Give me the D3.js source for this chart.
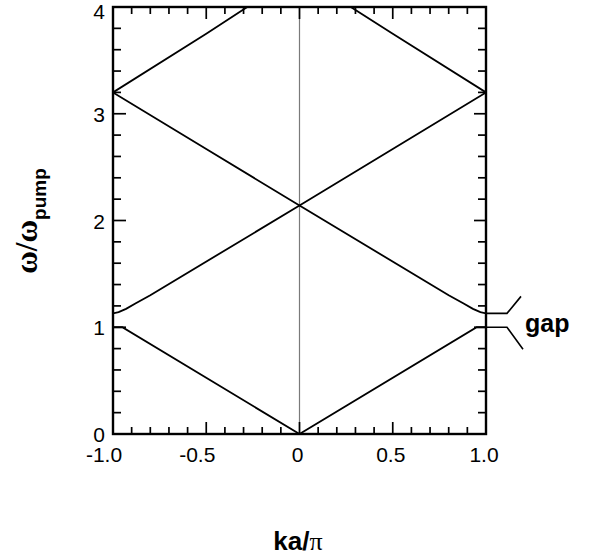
<!DOCTYPE html>
<html>
<head>
<meta charset="utf-8">
<script src="https://cdn.jsdelivr.net/npm/d3@7"></script>
<style>
  html, body { margin: 0; padding: 0; background: #fff; }
  svg { display: block; font-family: "Liberation Sans", Arial, Helvetica, sans-serif; }
</style>
</head>
<body>
<div id="chart"></div>
<script>
// Dispersion bands ω/ω_pump against ka/π
const band1K = [-1.0, -0.95, 0.0, 0.95, 1.0];
const band1W = [1.0, 1.0, 0.0, 1.0, 1.0];

const band2UpK = [-1.0, -0.97, -0.93, -0.88, -0.8, 0.0, 0.5, 1.0];
const band2UpW = [1.13, 1.142, 1.172, 1.222, 1.30, 2.14, 2.67, 3.2];

const band2DownK = [-1.0, -0.5, 0.0, 0.8, 0.88, 0.93, 0.97, 1.0];
const band2DownW = [3.2, 2.67, 2.14, 1.30, 1.222, 1.172, 1.142, 1.13];

const band3LeftK = [-1.0, -0.5, -0.28];
const band3LeftW = [3.2, 3.75, 4.0];

const band3RightK = [1.0, 0.5, 0.275];
const band3RightW = [3.2, 3.75, 4.0];

const gapEdges = [1.0, 1.13];

const xTickLabels = ["-1.0", "-0.5", "0", "0.5", "1.0"];
const xTickValues = [-1.0, -0.5, 0, 0.5, 1.0];
const yTickLabels = ["0", "1", "2", "3", "4"];
const yTickValues = [0, 1, 2, 3, 4];

const W = 590, H = 559;
const plot = { left: 113, right: 486, top: 7, bottom: 434 };

const svg = d3.select("#chart").append("svg")
  .attr("width", W).attr("height", H);

const x = d3.scaleLinear().domain([-1, 1]).range([plot.left, plot.right]);
const y = d3.scaleLinear().domain([0, 4]).range([plot.bottom, plot.top]);

svg.append("defs").append("clipPath").attr("id", "plotClip")
  .append("rect")
  .attr("x", plot.left).attr("y", plot.top)
  .attr("width", plot.right - plot.left).attr("height", plot.bottom - plot.top);

// k = 0 reference line
svg.append("line")
  .attr("x1", x(0)).attr("x2", x(0))
  .attr("y1", y(4)).attr("y2", y(0))
  .attr("stroke", "#7a7a7a").attr("stroke-width", 1.2);

// Bands
const line = d3.line().x(d => x(d[0])).y(d => y(d[1]));
const bands = [
  [band1K, band1W],
  [band2UpK, band2UpW],
  [band2DownK, band2DownW],
  [band3LeftK, band3LeftW],
  [band3RightK, band3RightW]
];
svg.append("g").attr("clip-path", "url(#plotClip)")
  .selectAll("path").data(bands).join("path")
  .attr("d", b => line(b[0].map((k, i) => [k, b[1][i]])))
  .attr("fill", "none").attr("stroke", "#000").attr("stroke-width", 1.8);

// Minor / major ticks, pointing inward on all four sides
const xMinor = d3.range(-10, 11).map(i => i / 10);
const yMinor = d3.range(0, 21).map(i => i / 5);
const isMajorX = v => Math.abs(v * 2 - Math.round(v * 2)) < 1e-6;
const isMajorY = v => Math.abs(v - Math.round(v)) < 1e-6;

const axisG = svg.append("g").attr("stroke", "#000").attr("stroke-width", 1.7);

axisG.selectAll(".xb").data(xMinor).join("line")
  .attr("x1", d => x(d)).attr("x2", d => x(d))
  .attr("y1", plot.bottom).attr("y2", d => plot.bottom - (isMajorX(d) ? 12 : 7));
axisG.selectAll(".xt").data(xMinor).join("line")
  .attr("x1", d => x(d)).attr("x2", d => x(d))
  .attr("y1", plot.top).attr("y2", d => plot.top + (isMajorX(d) ? 12 : 7));
axisG.selectAll(".yl").data(yMinor).join("line")
  .attr("y1", d => y(d)).attr("y2", d => y(d))
  .attr("x1", plot.left).attr("x2", d => plot.left + (isMajorY(d) ? 13 : 8));
axisG.selectAll(".yr").data(yMinor).join("line")
  .attr("y1", d => y(d)).attr("y2", d => y(d))
  .attr("x1", plot.right).attr("x2", d => plot.right - (isMajorY(d) ? 12 : 8));

// frame
svg.append("rect")
  .attr("x", plot.left).attr("y", plot.top)
  .attr("width", plot.right - plot.left).attr("height", plot.bottom - plot.top)
  .attr("fill", "none").attr("stroke", "#000").attr("stroke-width", 2.4);

// tick labels; negative labels sit a little left so the digits line up under the tick
svg.append("g").selectAll("text").data(xTickValues).join("text")
  .attr("x", d => x(d)).attr("y", 462)
  .attr("dx", (d, i) => xTickLabels[i].startsWith("-") ? -9 : -2)
  .attr("text-anchor", "middle")
  .attr("font-size", 21)
  .text((d, i) => xTickLabels[i]);

svg.append("g").selectAll("text").data(yTickValues).join("text")
  .attr("x", 105)
  .attr("y", d => Math.max(y(d) + 0.5, 11.5))
  .attr("dy", "0.36em")
  .attr("text-anchor", "end")
  .attr("font-size", 21)
  .text((d, i) => yTickLabels[i]);

// axis titles
const xt = svg.append("text")
  .attr("x", 298).attr("y", 550)
  .attr("text-anchor", "middle")
  .attr("font-size", 26).attr("font-weight", "bold");
xt.append("tspan").text("ka/");
xt.append("tspan").attr("font-family", "'Liberation Serif', serif").attr("font-weight", "normal").text("π");

const yt = svg.append("text")
  .attr("transform", "translate(37,221) rotate(-90)")
  .attr("text-anchor", "middle")
  .attr("font-weight", "bold");
yt.append("tspan").attr("font-family", "'Liberation Serif', serif").attr("font-size", 31).text("ω/ω");
yt.append("tspan").attr("font-size", 19).attr("dy", 9).text("pump");

// gap marker beyond the right frame
const gapG = svg.append("g").attr("stroke", "#000").attr("stroke-width", 1.6).attr("fill", "none");
const gTop = y(gapEdges[1]), gBot = y(gapEdges[0]);
gapG.append("path").attr("d", `M${plot.right},${gTop}H507L521,${gTop - 17}`);
gapG.append("path").attr("d", `M${plot.right},${gBot}H507L523,${gBot + 22}`);

svg.append("text")
  .attr("x", 525).attr("y", 332)
  .attr("font-size", 25).attr("font-weight", "bold")
  .text("gap");
</script>
</body>
</html>
